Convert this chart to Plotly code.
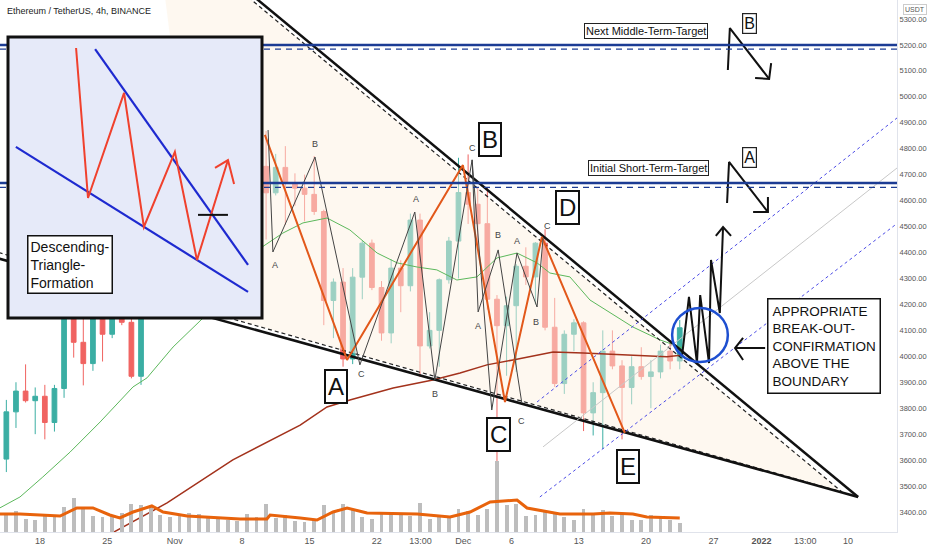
import plotly.graph_objects as go
import pandas as pd

# ---------------- data ----------------
days = pd.date_range("2021-10-13", "2021-12-23", freq="D")
candle_x = days + pd.Timedelta(hours=12)

opens = [3490, 3604, 3786, 3866, 3829, 3846, 3745, 3876, 4156, 4054, 3972, 4168, 4085, 4219, 4131, 3923, 4287, 4415, 4325,
         4288, 4324, 4587, 4605, 4532, 4476, 4518, 4612, 4808, 4732, 4630, 4728, 4666, 4648, 4624, 4558, 4215, 4286, 3990, 4305,
         4436, 4265, 4090, 4340, 4272, 4525, 4040, 4100, 4295, 4444,
         4631, 4586, 4511, 4220, 4118, 4195, 4347, 4306, 4436, 4112, 3895, 4085, 4129, 3782, 3860, 4020, 3963, 3880, 3960, 3922, 3940, 4020, 3982]
highs = [3610, 3832, 3900, 3969, 3880, 3890, 3890, 4194, 4375, 4176, 4174, 4188, 4235, 4295, 4190, 4298, 4460, 4420, 4395,
         4380, 4600, 4666, 4620, 4575, 4530, 4635, 4825, 4838, 4868, 4780, 4810, 4705, 4700, 4772, 4565, 4300, 4340, 4340, 4445,
         4450, 4290, 4374, 4370, 4550, 4550, 4170, 4300, 4460, 4765,
         4778, 4650, 4650, 4236, 4230, 4355, 4420, 4440, 4490, 4225, 4100, 4143, 4135, 3900, 4100, 4100, 3985, 4000, 4035, 3985, 4045, 4060, 4140]
lows = [3405, 3554, 3724, 3822, 3700, 3680, 3710, 3840, 3995, 3888, 3944, 3980, 4070, 4120, 3915, 3890, 4255, 4250, 4150,
        4147, 4310, 4460, 4490, 4450, 4330, 4505, 4600, 4712, 4450, 4620, 4506, 4580, 4520, 4545, 4120, 4070, 3960, 3970, 4220,
        4255, 4060, 4050, 4170, 4250, 3920, 4030, 3960, 4280, 4300,
        4510, 4430, 4180, 3500, 3925, 3940, 4275, 4200, 4100, 3882, 3855, 4020, 3712, 3695, 3643, 3950, 3680, 3815, 3910, 3800, 3915, 3950, 3950]
closes = [3604, 3786, 3866, 3829, 3846, 3745, 3876, 4156, 4054, 3972, 4168, 4085, 4219, 4131, 3923, 4287, 4415, 4325, 4288,
          4324, 4587, 4605, 4532, 4476, 4518, 4612, 4808, 4732, 4630, 4728, 4666, 4648, 4624, 4558, 4215, 4286, 3990, 4305, 4436,
          4265, 4090, 4340, 4272, 4525, 4040, 4100, 4295, 4444, 4631,
          4586, 4511, 4220, 4118, 4195, 4347, 4306, 4436, 4112, 3895, 4085, 4129, 3782, 3860, 4020, 3963, 3880, 3960, 3922, 3940, 4020, 3982, 4110]
volumes = [480, 430, 470, 300, 280, 400, 380, 560, 760, 560, 360, 330, 380, 420, 640, 620, 600, 380, 340,
           400, 420, 400, 330, 300, 280, 240, 400, 330, 640, 320, 380, 250, 230, 300, 620, 480, 640, 520, 330,
           300, 440, 420, 380, 360, 660, 300, 330, 360, 520,
           480, 380, 520, 1600, 620, 640, 360, 380, 460, 420, 330, 260, 520, 420, 500, 360, 420, 280, 270, 380, 330, 280, 200]

vol_ma_x = ["2021-10-13 20:00", "2021-10-15 22:00", "2021-10-20 02:00", "2021-10-21 20:00", "2021-10-23 12:00",
            "2021-10-25 06:00", "2021-10-26 07:00", "2021-10-27 16:00", "2021-10-29 15:00", "2021-10-30 19:00",
            "2021-11-02 07:00", "2021-11-07 19:00", "2021-11-10 14:00", "2021-11-10 22:00", "2021-11-14 01:00",
            "2021-11-15 19:00", "2021-11-17 11:00", "2021-11-18 22:00", "2021-11-21 00:00", "2021-11-26 05:00",
            "2021-11-29 15:00", "2021-12-01 17:00", "2021-12-03 19:00", "2021-12-06 14:00", "2021-12-07 15:00",
            "2021-12-09 17:00", "2021-12-11 01:00", "2021-12-14 12:00", "2021-12-16 06:00", "2021-12-18 15:00",
            "2021-12-20 02:00", "2021-12-23 12:00"]
vol_ma_y = [406, 406, 361, 542, 542, 384, 316, 451, 587, 451, 361, 293, 293, 384, 316, 271, 451, 542, 429, 406,
            338, 451, 677, 722, 542, 451, 406, 406, 429, 406, 338, 316]

ma_green_x = ["2021-10-13 20:00", "2021-10-15 22:00", "2021-10-18 07:00", "2021-10-21 03:00", "2021-10-24 06:00",
              "2021-10-27 16:00", "2021-10-29 03:00", "2021-10-31 20:00", "2021-11-03 23:00", "2021-11-06 18:00",
              "2021-11-08 20:00", "2021-11-12 06:00", "2021-11-14 08:00", "2021-11-16 20:00", "2021-11-19 05:00",
              "2021-11-22 01:00", "2021-11-24 03:00", "2021-11-26 05:00", "2021-11-28 06:00", "2021-11-30 08:00",
              "2021-12-02 10:00", "2021-12-04 12:00", "2021-12-06 14:00", "2021-12-08 16:00", "2021-12-10 00:00",
              "2021-12-12 02:00", "2021-12-14 04:00", "2021-12-17 00:00", "2021-12-18 15:00", "2021-12-21 11:00",
              "2021-12-23 20:00"]
ma_green_y = [3416, 3458, 3535, 3631, 3747, 3882, 3917, 4036, 4148, 4275, 4390, 4475, 4514, 4533, 4487,
              4398, 4360, 4344, 4333, 4294, 4306, 4379, 4398, 4360, 4321, 4306, 4217, 4152, 4113, 4063, 4032]

ma_red_x = ["2021-10-24 18:00", "2021-10-31 05:00", "2021-11-07 01:00", "2021-11-14 01:00", "2021-11-16 20:00",
            "2021-11-19 05:00", "2021-11-23 17:00", "2021-11-27 20:00", "2021-11-30 16:00", "2021-12-03 11:00",
            "2021-12-06 04:00", "2021-12-10 08:00", "2021-12-13 11:00", "2021-12-18 15:00", "2021-12-22 04:00",
            "2021-12-23 20:00"]
ma_red_y = [3304, 3435, 3601, 3735, 3805, 3832, 3878, 3909, 3936, 3967, 3986, 4017, 4013, 4005, 3998, 4005]

# triangle drawing
tri_fill_x = ["2021-10-30 11:00", "2021-11-03 15:00", "2022-01-09 09:00", "2021-11-04 04:00", "2021-10-30 11:00"]
tri_fill_y = [5539, 5539, 3477, 4175, 5539]
upper_solid_x = ["2021-11-04 06:00", "2022-01-11 01:00"]
upper_solid_y = [5539, 3458]
lower_solid_x = ["2021-10-13 00:00", "2022-01-11 01:00"]
lower_solid_y = [4384, 3458]
upper_dash_x = ["2021-11-03 15:00", "2022-01-09 09:00"]
upper_dash_y = [5539, 3477]
lower_dash_x = ["2021-10-13 00:00", "2022-01-09 09:00"]
lower_dash_y = [4407, 3477]

# channel
chan_up_x = ["2021-12-08 16:00", "2022-01-17 11:00"]
chan_up_y = [3824, 4988]
chan_lo_x = ["2021-12-08 23:00", "2022-01-17 11:00"]
chan_lo_y = [3458, 4579]
chan_mid_x = ["2021-12-09 07:00", "2022-01-17 11:00"]
chan_mid_y = [3651, 4795]

# targets
target_levels = [5200, 4668]
target_dash_levels = [5184, 4651]

# wave drawings
orange_x = ["2021-11-10 09:00", "2021-11-18 22:00", "2021-11-30 23:00", "2021-12-05 08:00", "2021-12-09 04:00", "2021-12-17 19:00"]
orange_y = [4853, 3986, 4737, 3824, 4460, 3705]
wave1_x = ["2021-11-10 17:00", "2021-11-11 05:00", "2021-11-15 14:00", "2021-11-20 06:00", "2021-11-25 23:00", "2021-11-28 01:00", "2021-12-01 22:00"]
wave1_y = [4872, 4402, 4768, 3967, 4556, 3909, 4757]
wave2_x = ["2021-12-01 22:00", "2021-12-02 13:00", "2021-12-04 15:00", "2021-12-07 02:00"]
wave2_y = [4757, 4171, 4410, 3820]
wave3_x = ["2021-12-01 22:00", "2021-12-03 23:00", "2021-12-06 14:00", "2021-12-08 16:00", "2021-12-09 07:00"]
wave3_y = [4757, 3793, 4398, 4190, 4456]

small_labels = ["A", "B", "C", "A", "B", "C", "A", "B", "A", "B", "C", "C"]
small_x = ["2021-11-11 10:00", "2021-11-15 14:00", "2021-11-20 11:00", "2021-11-26 02:00", "2021-11-28 01:00", "2021-12-02 00:00",
           "2021-12-02 13:00", "2021-12-04 15:00", "2021-12-06 14:00", "2021-12-08 13:00", "2021-12-09 17:00", "2021-12-07 00:00"]
small_y = [4352, 4818, 3932, 4606, 3855, 4803, 4117, 4468, 4444, 4132, 4502, 3751]

big_labels = ["A", "B", "C", "D", "E"]
big_x = ["2021-11-17 18:00", "2021-12-03 19:00", "2021-12-04 17:00", "2021-12-11 19:00", "2021-12-18 03:00"]
big_y = [3882, 4837, 3697, 4572, 3574]

# breakout sketch
sketch_x = ["2021-12-23 18:00", "2021-12-24 11:00", "2021-12-25 07:00", "2021-12-25 15:00", "2021-12-26 13:00",
            "2021-12-26 18:00", "2021-12-27 16:00", "2021-12-28 00:00"]
sketch_y = [4005, 4229, 3974, 4236, 3974, 4371, 4167, 4498]
sketch_head_x = ["2021-12-27 06:00", "2021-12-28 00:00", "2021-12-28 20:00"]
sketch_head_y = [4464, 4498, 4464]

arrowB_x = ["2021-12-28 12:00", "2021-12-28 17:00", "2022-01-01 19:00"]
arrowB_y = [5103, 5265, 5069]
arrowB_head_x = ["2021-12-31 08:00", "2022-01-01 19:00", "2022-01-02 00:00"]
arrowB_head_y = [5072, 5069, 5130]
arrowA_x = ["2021-12-28 10:00", "2021-12-28 15:00", "2022-01-01 16:00"]
arrowA_y = [4591, 4749, 4556]
arrowA_head_x = ["2021-12-31 03:00", "2022-01-01 16:00", "2022-01-01 16:00"]
arrowA_head_y = [4556, 4556, 4614]

left_arrow_x = ["2022-01-01 09:00", "2021-12-29 06:00"]
left_arrow_y = [4032, 4032]
left_head_x = ["2021-12-30 02:00", "2021-12-29 06:00", "2021-12-30 02:00"]
left_head_y = [4071, 4032, 3986]

ellipse_x = ["2021-12-22 17:00", "2021-12-28 12:00"]
ellipse_y = [3978, 4186]

# inset schematic (normalized inside the inset box)
inset_upper = [(0.343, 0.043), (0.945, 0.811)]
inset_lower = [(0.031, 0.391), (0.945, 0.907)]
inset_zig = [(0.268, 0.039), (0.315, 0.573), (0.457, 0.199), (0.535, 0.676), (0.657, 0.409), (0.744, 0.794), (0.866, 0.438)]
inset_head = [(0.815, 0.466), (0.866, 0.438), (0.890, 0.523)]
inset_bar = [(0.748, 0.633), (0.866, 0.633)]

x_tick_vals = ["2021-10-18", "2021-10-25", "2021-11-01", "2021-11-08", "2021-11-15", "2021-11-22", "2021-11-26 13:00",
               "2021-12-01", "2021-12-06", "2021-12-13", "2021-12-20", "2021-12-27", "2022-01-01", "2022-01-05 13:00", "2022-01-10"]
x_tick_text = ["18", "25", "Nov", "8", "15", "22", "13:00", "Dec", "6", "13", "20", "27", "<b>2022</b>", "13:00", "10"]
y_tick_vals = list(range(3400, 5301, 100))
y_tick_text = [f"{v:.2f}" for v in y_tick_vals]

# ---------------- figure ----------------
fig = go.Figure()

def line(x, y, color, width, dash="solid", yaxis="y"):
    fig.add_trace(go.Scatter(x=x, y=y, mode="lines", line=dict(color=color, width=width, dash=dash),
                             hoverinfo="skip", yaxis=yaxis))

fig.add_trace(go.Scatter(x=tri_fill_x, y=tri_fill_y, fill="toself", fillcolor="rgba(253,242,226,0.5)",
                         line=dict(width=0), mode="lines", hoverinfo="skip"))

fig.add_trace(go.Bar(x=candle_x, y=volumes, yaxis="y2", marker=dict(color="#bdbdbd", line=dict(width=0)),
                     width=0.4 * 86400000, hoverinfo="skip"))
line(vol_ma_x, vol_ma_y, "#e8630c", 3, yaxis="y2")

line(ma_green_x, ma_green_y, "#5cb85c", 1)
line(ma_red_x, ma_red_y, "#a3321c", 1.5)

fig.add_trace(go.Candlestick(x=candle_x, open=opens, high=highs, low=lows, close=closes,
                             increasing=dict(line=dict(color="#26a69a", width=1), fillcolor="#26a69a"),
                             decreasing=dict(line=dict(color="#ef5350", width=1), fillcolor="#ef5350"),
                             whiskerwidth=0, opacity=0.9, hoverinfo="skip"))

line(upper_dash_x, upper_dash_y, "#222", 1.2, dash="4px,3px")
line(lower_dash_x, lower_dash_y, "#222", 1.2, dash="4px,3px")
line(upper_solid_x, upper_solid_y, "#111", 2.5)
line(lower_solid_x, lower_solid_y, "#111", 2.5)

line(chan_up_x, chan_up_y, "#4b4be6", 1, dash="3px,3px")
line(chan_lo_x, chan_lo_y, "#4b4be6", 1, dash="3px,3px")
line(chan_mid_x, chan_mid_y, "#c8c8c8", 1)

line(orange_x, orange_y, "#e2581a", 2)
line(wave1_x, wave1_y, "#444", 1)
line(wave2_x, wave2_y, "#444", 1)
line(wave3_x, wave3_y, "#444", 1)

line(sketch_x, sketch_y, "#111", 2)
line(sketch_head_x, sketch_head_y, "#111", 2)
line(arrowB_x, arrowB_y, "#111", 2)
line(arrowB_head_x, arrowB_head_y, "#111", 2)
line(arrowA_x, arrowA_y, "#111", 2)
line(arrowA_head_x, arrowA_head_y, "#111", 2)
line(left_arrow_x, left_arrow_y, "#111", 2)
line(left_head_x, left_head_y, "#111", 2)

# ---------------- shapes ----------------
shapes = []
for lv in target_levels:
    shapes.append(dict(type="line", xref="paper", x0=0, x1=1, yref="y", y0=lv, y1=lv,
                       line=dict(color="#1c3c94", width=2.5), layer="above"))
for lv in target_dash_levels:
    shapes.append(dict(type="line", xref="paper", x0=0, x1=1, yref="y", y0=lv, y1=lv,
                       line=dict(color="#1c3c94", width=1.2, dash="6px,5px"), layer="above"))
shapes.append(dict(type="circle", xref="x", yref="y", x0=ellipse_x[0], x1=ellipse_x[1], y0=ellipse_y[0], y1=ellipse_y[1],
                   line=dict(color="#1e4fd0", width=2.5), layer="above"))

PW, PH = 897.0, 532.0
IX0, IY0, IW, IH = 8, 37, 254, 281

def ip(u, v):
    return (IX0 + u * IW) / PW, 1 - (IY0 + v * IH) / PH

x0p, y0p = ip(0, 0)
x1p, y1p = ip(1, 1)
shapes.append(dict(type="rect", xref="paper", yref="paper", x0=x0p, x1=x1p, y0=y1p, y1=y0p,
                   fillcolor="#e6eaf9", line=dict(color="#111", width=3), layer="above"))

def inset_path(pts, color, width):
    d = ""
    for i, (u, v) in enumerate(pts):
        px, py = ip(u, v)
        d += ("M" if i == 0 else "L") + f"{px},{py} "
    shapes.append(dict(type="path", xref="paper", yref="paper", path=d.strip(),
                       line=dict(color=color, width=width), layer="above"))

inset_path(inset_upper, "#1e2ad0", 2.2)
inset_path(inset_lower, "#1e2ad0", 2.2)
inset_path(inset_zig, "#f0412d", 2)
inset_path(inset_head, "#f0412d", 2)
inset_path(inset_bar, "#111", 2)

# ---------------- annotations ----------------
ann = []
for t, x, y in zip(small_labels, small_x, small_y):
    ann.append(dict(text=t, x=x, y=y, showarrow=False, font=dict(size=9, color="#444", family="Liberation Sans")))
for t, x, y in zip(big_labels, big_x, big_y):
    ann.append(dict(text=t, x=x, y=y, showarrow=False, font=dict(size=24, color="#111", family="Liberation Sans"),
                    bordercolor="#111", borderwidth=2, borderpad=2, bgcolor="white"))
ann.append(dict(text="Next Middle-Term-Target", x="2021-12-20 00:00", y=5253, showarrow=False,
                font=dict(size=11, color="#111", family="Liberation Sans"), bordercolor="#222", borderwidth=1,
                borderpad=1, bgcolor="white"))
ann.append(dict(text="Initial Short-Term-Target", x="2021-12-20 05:00", y=4726, showarrow=False,
                font=dict(size=11, color="#111", family="Liberation Sans"), bordercolor="#222", borderwidth=1,
                borderpad=1, bgcolor="white"))
ann.append(dict(text="B", x="2021-12-30 17:00", y=5284, showarrow=False,
                font=dict(size=16, color="#111", family="Liberation Sans"), bordercolor="#222", borderwidth=1.2,
                borderpad=1, bgcolor="white"))
ann.append(dict(text="A", x="2021-12-30 19:00", y=4768, showarrow=False,
                font=dict(size=16, color="#111", family="Liberation Sans"), bordercolor="#222", borderwidth=1.2,
                borderpad=1, bgcolor="white"))
ann.append(dict(text="APPROPRIATE<br>BREAK-OUT-<br>CONFIRMATION<br>ABOVE THE<br>BOUNDARY",
                x="2022-01-01 14:00", y=4040, xanchor="left", yanchor="middle", align="left", showarrow=False,
                font=dict(size=13.5, color="#111", family="Liberation Sans"),
                bordercolor="#111", borderwidth=1.5, borderpad=4, bgcolor="white"))
tx, ty = ip(0.075, 0.705)
ann.append(dict(text="Descending-<br>Triangle-<br>Formation", xref="paper", yref="paper", x=tx, y=ty,
                xanchor="left", yanchor="top", align="left", showarrow=False,
                font=dict(size=14, color="#111", family="Liberation Sans"),
                bordercolor="#111", borderwidth=1.5, borderpad=2, bgcolor="white"))
ann.append(dict(text="Ethereum / TetherUS, 4h, BINANCE", xref="paper", yref="paper", x=5 / PW, y=1 - 4 / PH,
                xanchor="left", yanchor="top", showarrow=False,
                font=dict(size=9, color="#222", family="Liberation Sans")))
ann.append(dict(text="USDT", xref="paper", yref="paper", x=1 + 18 / PW, y=1 - 4 / PH, xanchor="center", yanchor="top",
                showarrow=False, font=dict(size=7, color="#555", family="Liberation Sans"),
                bordercolor="#ccc", borderwidth=1, borderpad=1, bgcolor="white"))

fig.update_layout(
    width=932, height=550, margin=dict(l=0, r=35, t=0, b=18),
    paper_bgcolor="white", plot_bgcolor="white", showlegend=False,
    shapes=shapes, annotations=ann, bargap=0,
    xaxis=dict(type="date", range=["2021-10-13 20:10", "2022-01-15 02:00"], rangeslider=dict(visible=False),
               tickvals=x_tick_vals, ticktext=x_tick_text, showgrid=False, zeroline=False,
               showline=True, linecolor="#e0e3eb", linewidth=1, ticks="outside", ticklen=0,
               tickfont=dict(size=9, color="#555", family="Liberation Sans")),
    yaxis=dict(range=[3323, 5373], side="right", tickvals=y_tick_vals, ticktext=y_tick_text,
               showgrid=False, zeroline=False, showline=True, linecolor="#e0e3eb", ticks="outside", ticklen=0,
               tickfont=dict(size=7.5, color="#555", family="Liberation Sans")),
    yaxis2=dict(range=[0, 12000], overlaying="y", visible=False),
)

fig.write_html("out.html", config={"displayModeBar": False},
               post_script="document.body.style.margin='0px';")
